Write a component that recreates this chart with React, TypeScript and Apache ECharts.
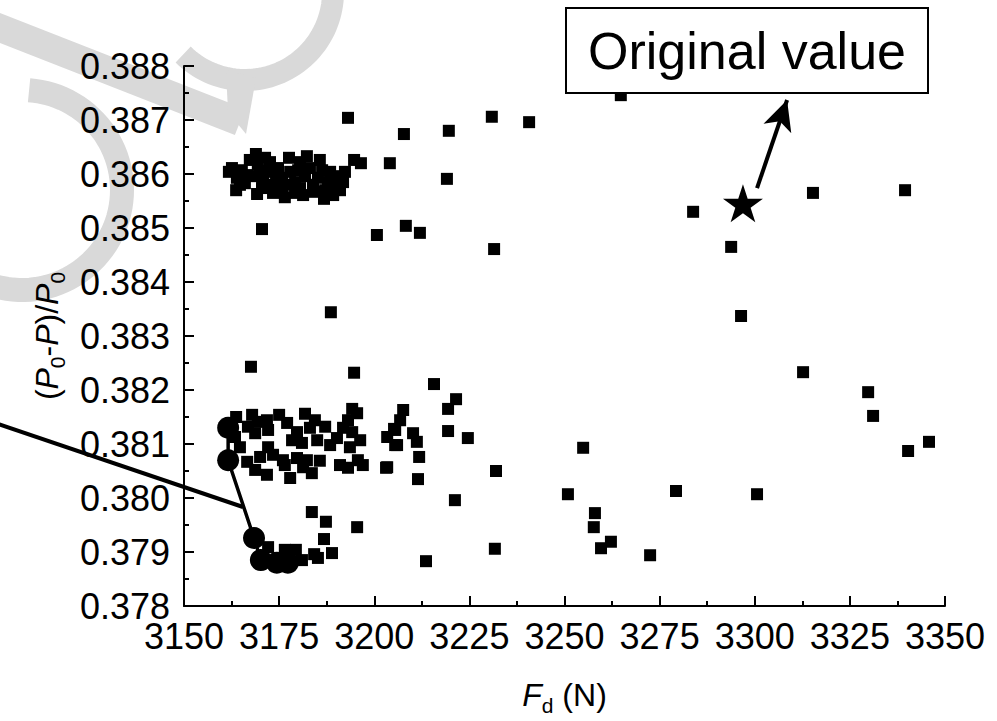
import React, { useEffect, useRef } from "react";
import * as echarts from "echarts";

const FONT = "Liberation Sans, Arial, Helvetica, sans-serif";

// axis ranges / ticks
const xMin = 3150;
const xMax = 3350;
const xStep = 25;
const yMin = 0.378;
const yMax = 0.388;
const yStep = 0.001;

// dense cluster near 0.386
const upperCluster: number[][] = [
  [3161.8, 0.38604], [3163.9, 0.38593], [3165.2, 0.38607], [3166.0, 0.38583], [3167.3, 0.38626],
  [3168.9, 0.38637], [3169.2, 0.38563], [3167.9, 0.38596], [3170.0, 0.38607], [3170.8, 0.38589],
  [3172.1, 0.38604], [3173.1, 0.3858], [3173.4, 0.38565], [3174.7, 0.38611], [3175.8, 0.38593],
  [3176.5, 0.38557], [3177.6, 0.3863], [3177.9, 0.38604], [3179.2, 0.38585], [3180.0, 0.38607],
  [3180.5, 0.38574], [3181.8, 0.38596], [3182.3, 0.38633], [3183.1, 0.38611], [3183.9, 0.3858],
  [3185.2, 0.38593], [3186.3, 0.38607], [3186.8, 0.38554], [3187.8, 0.38585], [3188.4, 0.38604],
  [3189.7, 0.3858], [3190.5, 0.38596], [3191.8, 0.38585], [3187.1, 0.3857], [3179.2, 0.38565],
  [3164.7, 0.3858], [3170.5, 0.38574], [3175.8, 0.3857], [3184.4, 0.38567], [3172.6, 0.38622],
  [3180.5, 0.38622], [3162.6, 0.38611], [3166.6, 0.38598], [3169.4, 0.38617], [3171.3, 0.3863],
  [3174.2, 0.38589], [3177.1, 0.3858], [3181.3, 0.38561], [3185.7, 0.38626], [3189.2, 0.38561],
  [3191.0, 0.3857], [3192.3, 0.38604], [3163.7, 0.3857],
];

// scattered points in the upper half
const upperScatter: number[][] = [
  [3193.1, 0.38704], [3194.7, 0.38626], [3196.5, 0.3862], [3204.1, 0.3862], [3207.8, 0.38674],
  [3219.6, 0.3868], [3230.9, 0.38706], [3240.7, 0.38696], [3264.8, 0.38746], [3219.1, 0.38591],
  [3200.7, 0.38487], [3208.3, 0.38504], [3212.0, 0.38491], [3231.5, 0.38461], [3170.5, 0.38498],
  [3188.6, 0.38344], [3283.8, 0.3853], [3315.3, 0.38565], [3339.5, 0.3857], [3293.8, 0.38465],
  [3296.4, 0.38337],
];

// scattered points on the right, lower half
const rightScatter: number[][] = [
  [3312.7, 0.38233], [3329.8, 0.38196], [3331.1, 0.38152], [3345.8, 0.38104], [3340.3, 0.38087],
  [3279.3, 0.38013], [3300.6, 0.38007],
];

// dense cluster near 0.381
const lowerCluster: number[][] = [
  [3167.6, 0.38243], [3194.7, 0.38232], [3215.7, 0.38211], [3221.5, 0.38183], [3219.4, 0.38165],
  [3163.7, 0.3815], [3167.9, 0.38154], [3171.8, 0.38144], [3175.0, 0.38154], [3181.8, 0.38156],
  [3194.2, 0.38165], [3195.5, 0.38157], [3193.1, 0.38144], [3166.8, 0.38132], [3168.7, 0.3812],
  [3172.1, 0.38126], [3177.1, 0.38139], [3179.7, 0.38122], [3183.1, 0.3813], [3187.1, 0.38132],
  [3190.2, 0.38111], [3181.0, 0.38102], [3185.0, 0.38107], [3191.8, 0.3813], [3194.2, 0.38122],
  [3203.4, 0.38113], [3205.5, 0.38126], [3206.8, 0.38144], [3205.5, 0.38098], [3163.4, 0.38113],
  [3172.1, 0.38094], [3193.6, 0.38094], [3166.6, 0.38067], [3170.0, 0.38076], [3173.4, 0.3808],
  [3176.0, 0.3807], [3179.7, 0.38074], [3182.3, 0.3807], [3185.7, 0.38069], [3193.1, 0.38056],
  [3195.7, 0.3807], [3203.4, 0.38057], [3171.8, 0.38043], [3176.5, 0.38061], [3177.9, 0.38037],
  [3181.3, 0.38057], [3183.6, 0.38046], [3197.0, 0.38061], [3207.6, 0.38163], [3205.2, 0.38128],
  [3206.0, 0.38098], [3210.2, 0.3812], [3211.2, 0.38104], [3219.4, 0.38124], [3224.6, 0.38111],
  [3211.8, 0.38076], [3203.1, 0.38056], [3211.5, 0.38035], [3232.0, 0.3805], [3221.2, 0.37996],
  [3164.7, 0.38094], [3169.4, 0.38141], [3178.4, 0.38107], [3188.4, 0.38098], [3191.0, 0.38061],
  [3184.4, 0.38144], [3196.3, 0.38107], [3168.7, 0.38052],
];

// points near the bottom (0.379 – 0.381)
const bottomScatter: number[][] = [
  [3254.9, 0.38093], [3250.9, 0.38007], [3258.0, 0.37972], [3257.7, 0.37946], [3262.2, 0.37919],
  [3259.6, 0.37907], [3272.5, 0.37894], [3231.7, 0.37906], [3213.6, 0.37883], [3183.6, 0.37974],
  [3187.3, 0.37956], [3195.5, 0.37946], [3186.8, 0.37924], [3188.9, 0.37898], [3184.2, 0.37896],
  [3185.2, 0.37889], [3179.4, 0.37904], [3181.0, 0.37885], [3172.1, 0.37909], [3176.5, 0.37904],
];

// connected large circles
const pathX = [3161.6, 3161.6, 3168.4, 3170.2, 3174.4, 3177.3];
const pathY = [0.3813, 0.3807, 0.37926, 0.37885, 0.3788, 0.3788];

// original value (star) and arrow toward its label
const originalValue = [3296.9, 0.38546];
const arrowFrom = [3300.6, 0.38574];
const arrowTo = [3308.5, 0.38737];

const xTickLabels = ["3150", "3175", "3200", "3225", "3250", "3275", "3300", "3325", "3350"];

const STAR =
  "path://M50,0 L61.2,34.5 L97.6,34.5 L68.2,55.9 L79.4,90.5 L50,69.1 L20.6,90.5 L31.8,55.9 L2.4,34.5 L38.8,34.5 Z";

const GRAY = "#d9d9d9";

function arcPoints(cx: number, cy: number, r: number, a0: number, a1: number, n = 60) {
  const pts: number[][] = [];
  for (let i = 0; i <= n; i++) {
    const a = a0 + ((a1 - a0) * i) / n;
    pts.push([cx + r * Math.cos(a), cy + r * Math.sin(a)]);
  }
  return pts;
}

export default function App() {
  const ref = useRef<HTMLDivElement>(null);

  useEffect(() => {
    if (!ref.current) return;
    const chart = echarts.init(ref.current, undefined, { renderer: "svg" });

    const squareStyle = {
      type: "scatter",
      symbol: "rect",
      symbolSize: 12,
      itemStyle: { color: "#000", opacity: 1 },
      z: 3,
    };

    const nameRich = {
      n: { fontSize: 32, fontFamily: FONT, color: "#000", lineHeight: 42 },
      i: { fontSize: 32, fontFamily: FONT, color: "#000", fontStyle: "italic", lineHeight: 42 },
      s: { fontSize: 21, fontFamily: FONT, color: "#000", lineHeight: 16, verticalAlign: "bottom" },
    };

    const option: any = {
      animation: false,
      backgroundColor: "#fff",
      grid: { left: 184, right: 52, top: 66, bottom: 115, containLabel: false },
      xAxis: {
        type: "value",
        min: xMin,
        max: xMax,
        interval: xStep,
        name: "{i|F}{s|d}{n| (N)}",
        nameLocation: "middle",
        nameGap: 68,
        nameTextStyle: { rich: nameRich },
        axisLine: { show: true, onZero: false, lineStyle: { color: "#000", width: 2 } },
        axisTick: { show: true, inside: true, length: 10, lineStyle: { color: "#000", width: 2 } },
        minorTick: { show: true, splitNumber: 2, length: 5, lineStyle: { color: "#000", width: 2 } },
        splitLine: { show: false },
        axisLabel: {
          fontSize: 36,
          lineHeight: 28,
          fontFamily: FONT,
          color: "#000",
          margin: 16,
          formatter: (v: number) => {
            const idx = Math.round((v - xMin) / xStep);
            return xTickLabels[idx] ?? String(v);
          },
        },
      },
      yAxis: {
        type: "value",
        min: yMin,
        max: yMax,
        interval: yStep,
        name: "{n|(}{i|P}{s|0}{n|-}{i|P}{n|)/}{i|P}{s|0}",
        nameLocation: "middle",
        nameGap: 116,
        nameRotate: 90,
        nameTextStyle: { rich: nameRich, padding: [0, 0, 0, 0] },
        axisLine: { show: true, onZero: false, lineStyle: { color: "#000", width: 2 } },
        axisTick: { show: true, inside: true, length: 10, lineStyle: { color: "#000", width: 2 } },
        minorTick: { show: true, splitNumber: 2, length: 5, lineStyle: { color: "#000", width: 2 } },
        splitLine: { show: false },
        axisLabel: {
          fontSize: 36,
          lineHeight: 28,
          fontFamily: FONT,
          color: "#000",
          margin: 14,
          formatter: (v: number) => v.toFixed(3),
        },
      },
      graphic: [
        // watermark
        {
          type: "line",
          z: -10,
          silent: true,
          shape: { x1: -10, y1: 24, x2: 240, y2: 122 },
          style: { stroke: GRAY, lineWidth: 28, lineCap: "butt" },
        },
        {
          type: "polyline",
          z: -10,
          silent: true,
          shape: { points: arcPoints(245, -8, 88, -0.3, 2.35) },
          style: { stroke: GRAY, lineWidth: 22, fill: null },
        },
        {
          type: "polygon",
          z: -10,
          silent: true,
          shape: { points: [[226, 70], [256, 78], [246, 134], [228, 112]] },
          style: { fill: GRAY },
        },
        {
          type: "polyline",
          z: -10,
          silent: true,
          shape: { points: arcPoints(22, 190, 100, -1.5, 1.95) },
          style: { stroke: GRAY, lineWidth: 24, fill: null },
        },
        // pointer line entering from the left edge
        {
          type: "line",
          z: 5,
          silent: true,
          shape: { x1: -5, y1: 423, x2: 243, y2: 507 },
          style: { stroke: "#000", lineWidth: 4 },
        },
        // label box
        {
          type: "rect",
          z: 4,
          shape: { x: 566, y: 8, width: 362, height: 85 },
          style: { fill: "#fff", stroke: "#000", lineWidth: 2 },
        },
        {
          type: "text",
          z: 5,
          x: 747,
          y: 51,
          style: {
            text: "Original value",
            fontSize: 52,
            fontFamily: FONT,
            fill: "#000",
            align: "center",
            verticalAlign: "middle",
            textAlign: "center",
            textVerticalAlign: "middle",
          },
        },
      ],
      series: [
        { ...squareStyle, name: "upperCluster", data: upperCluster },
        { ...squareStyle, name: "upperScatter", data: upperScatter },
        { ...squareStyle, name: "rightScatter", data: rightScatter },
        { ...squareStyle, name: "lowerCluster", data: lowerCluster },
        { ...squareStyle, name: "bottomScatter", data: bottomScatter },
        {
          type: "line",
          name: "path",
          data: pathX.map((x, i) => [x, pathY[i]]),
          symbol: "circle",
          symbolSize: 22,
          showSymbol: true,
          itemStyle: { color: "#000", opacity: 1 },
          lineStyle: { color: "#000", width: 3.5 },
          z: 6,
        },
        {
          type: "scatter",
          name: "original",
          data: [originalValue],
          symbol: STAR,
          symbolSize: [40, 38],
          itemStyle: { color: "#000", opacity: 1 },
          z: 6,
          markLine: {
            silent: true,
            symbol: ["none", "arrow"],
            symbolSize: [22, 30],
            label: { show: false },
            lineStyle: { color: "#000", width: 4, type: "solid", opacity: 1 },
            data: [[{ coord: arrowFrom }, { coord: arrowTo }]],
          },
        },
      ],
    };

    chart.setOption(option);
    return () => chart.dispose();
  }, []);

  return (
    <div
      ref={ref}
      style={{ position: "fixed", left: 0, top: 0, width: 997, height: 721, background: "#fff" }}
    />
  );
}
